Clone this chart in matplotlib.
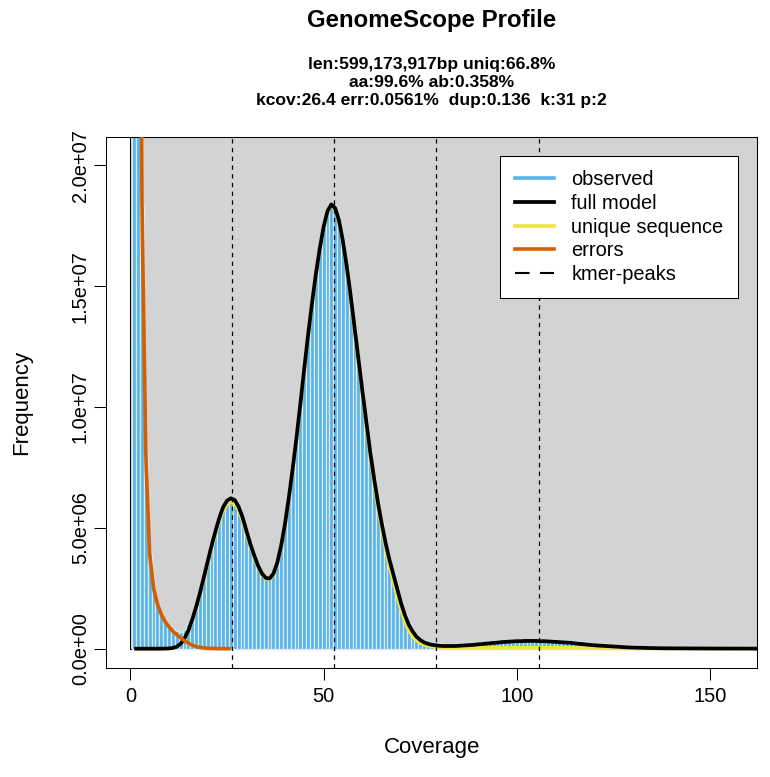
import numpy as np
import matplotlib
matplotlib.use("Agg")
import matplotlib.pyplot as plt
from matplotlib.patches import Rectangle
from matplotlib.lines import Line2D

plt.rcParams['font.family'] = ['Liberation Sans', 'DejaVu Sans']

# -----------------------
# Data (frequencies in millions of k-mers, coverage 1..165)
# -----------------------
coverage = np.arange(1, 166)

observed = [
    150, 60, 18.3, 8.1, 3.9, 2.45, 1.85, 1.45, 1.15, 0.95,
    0.8, 0.72, 0.7, 0.78, 1.0, 1.36, 1.8, 2.33, 2.97, 3.62,
    4.27, 4.86, 5.41, 5.86, 6.13, 6.23, 6.16, 5.89, 5.46, 4.91,
    4.36, 3.89, 3.46, 3.13, 2.94, 2.91, 3.11, 3.56, 4.26, 5.16,
    6.26, 7.46, 8.76, 10.16, 11.61, 13.01, 14.31, 15.51, 16.56, 17.46,
    18.11, 18.39, 18.23, 17.71, 16.86, 15.81, 14.61, 13.31, 12.01, 10.71,
    9.46, 8.21, 7.11, 6.11, 5.21, 4.41, 3.71, 3.11, 2.52, 1.93,
    1.44, 1.05, 0.78, 0.57, 0.43, 0.34, 0.28, 0.25, 0.23, 0.22,
    0.21, 0.21, 0.21, 0.21, 0.22, 0.22, 0.23, 0.23, 0.24, 0.25,
    0.26, 0.27, 0.28, 0.29, 0.3, 0.31, 0.32, 0.33, 0.34, 0.35,
    0.35, 0.36, 0.36, 0.36, 0.36, 0.35, 0.35, 0.34, 0.33, 0.32,
    0.31, 0.3, 0.29, 0.28, 0.26, 0.25, 0.24, 0.22, 0.21, 0.2,
    0.19, 0.18, 0.17, 0.17, 0.16, 0.16, 0.15, 0.15, 0.14, 0.14,
    0.14, 0.13, 0.13, 0.13, 0.13, 0.13, 0.12, 0.12, 0.12, 0.12,
    0.12, 0.12, 0.12, 0.12, 0.12, 0.12, 0.12, 0.12, 0.12, 0.12,
    0.12, 0.11, 0.11, 0.11, 0.11, 0.11, 0.11, 0.11, 0.11, 0.11,
    0.11, 0.11, 0.11, 0.11, 0.11,
]

full_model = [
    0, 0, 0, 0, 0, 0, 0, 0, 0.005, 0.01,
    0.03, 0.08, 0.2, 0.42, 0.75, 1.2, 1.72, 2.3, 2.95, 3.6,
    4.25, 4.85, 5.4, 5.85, 6.12, 6.22, 6.15, 5.88, 5.45, 4.9,
    4.35, 3.88, 3.45, 3.12, 2.93, 2.9, 3.1, 3.55, 4.25, 5.15,
    6.25, 7.45, 8.75, 10.15, 11.6, 13.0, 14.3, 15.5, 16.55, 17.45,
    18.1, 18.38, 18.22, 17.7, 16.85, 15.8, 14.6, 13.3, 12.0, 10.7,
    9.45, 8.2, 7.1, 6.1, 5.2, 4.4, 3.7, 3.1, 2.5, 1.9,
    1.4, 1.0, 0.72, 0.5, 0.36, 0.26, 0.2, 0.16, 0.14, 0.12,
    0.11, 0.11, 0.11, 0.11, 0.12, 0.13, 0.14, 0.15, 0.16, 0.18,
    0.19, 0.21, 0.22, 0.24, 0.25, 0.27, 0.28, 0.29, 0.3, 0.31,
    0.31, 0.32, 0.32, 0.32, 0.32, 0.31, 0.31, 0.3, 0.29, 0.28,
    0.27, 0.26, 0.25, 0.24, 0.22, 0.2, 0.19, 0.17, 0.155, 0.14,
    0.13, 0.12, 0.11, 0.1, 0.09, 0.08, 0.07, 0.06, 0.05, 0.045,
    0.04, 0.035, 0.03, 0.027, 0.024, 0.021, 0.019, 0.017, 0.015, 0.014,
    0.013, 0.012, 0.011, 0.01, 0.009, 0.009, 0.008, 0.008, 0.007, 0.007,
    0.007, 0.006, 0.006, 0.006, 0.005, 0.005, 0.005, 0.005, 0.004, 0.004,
    0.004, 0.004, 0.004, 0.003, 0.003,
]

unique_seq = [
    0, 0, 0, 0, 0, 0, 0, 0, 0.005, 0.01,
    0.03, 0.08, 0.19, 0.4, 0.72, 1.16, 1.67, 2.23, 2.87, 3.5,
    4.14, 4.73, 5.27, 5.71, 5.97, 6.07, 6.0, 5.74, 5.32, 4.79,
    4.26, 3.8, 3.39, 3.07, 2.89, 2.87, 3.07, 3.52, 4.22, 5.12,
    6.22, 7.42, 8.72, 10.12, 11.57, 12.97, 14.27, 15.47, 16.52, 17.42,
    18.07, 18.34, 18.17, 17.64, 16.78, 15.72, 14.5, 13.2, 11.88, 10.57,
    9.3, 8.04, 6.92, 5.9, 4.98, 4.16, 3.44, 2.82, 2.2, 1.6,
    1.12, 0.76, 0.52, 0.35, 0.24, 0.17, 0.12, 0.09, 0.07, 0.055,
    0.045, 0.04, 0.036, 0.034, 0.032, 0.031, 0.03, 0.03, 0.03, 0.03,
    0.03, 0.031, 0.032, 0.033, 0.034, 0.035, 0.036, 0.037, 0.038, 0.038,
    0.039, 0.039, 0.039, 0.039, 0.039, 0.038, 0.038, 0.037, 0.036, 0.035,
    0.034, 0.033, 0.031, 0.03, 0.028, 0.026, 0.025, 0.023, 0.021, 0.02,
    0.018, 0.017, 0.016, 0.015, 0.014, 0.013, 0.012, 0.011, 0.01, 0.009,
    0.009, 0.008, 0.008, 0.007, 0.007, 0.006, 0.006, 0.006, 0.005, 0.005,
    0.005, 0.005, 0.004, 0.004, 0.004, 0.004, 0.004, 0.003, 0.003, 0.003,
    0.003, 0.003, 0.003, 0.003, 0.002, 0.002, 0.002, 0.002, 0.002, 0.002,
    0.002, 0.002, 0.002, 0.001, 0.001,
]

# error k-mers, coverage 1..26
errors = [
    120, 45, 18.5, 8.0, 3.9, 2.5, 1.85, 1.42, 1.12, 0.9,
    0.72, 0.58, 0.45, 0.33, 0.23, 0.15, 0.09, 0.05, 0.03, 0.015,
    0.01, 0.005, 0, 0, 0, 0,
]

kmer_peaks = [26.4, 52.8, 79.2, 105.6]

x_ticks = [0, 50, 100, 150]
y_ticks = [0, 5e6, 1e7, 1.5e7, 2e7]
y_tick_labels = ["0.0e+00", "5.0e+06", "1.0e+07", "1.5e+07", "2.0e+07"]

title = "GenomeScope Profile"
subtitle = ["len:599,173,917bp uniq:66.8%",
            "aa:99.6% ab:0.358%",
            "kcov:26.4 err:0.0561%  dup:0.136  k:31 p:2"]

COLOR_HIST = "#56B4E9"
COLOR_BG = "#D3D3D3"
COLOR_UNIQUE = "#F0E442"
COLOR_ERR = "#D55E00"

# -----------------------
# Plot
# -----------------------
W, H = 770, 777
fig = plt.figure(figsize=(W / 100, H / 100), dpi=100)
ax = fig.add_axes([106 / W, (H - 668) / H, 651.3 / W, 531.3 / H])

obs = np.array(observed) * 1e6
model = np.array(full_model) * 1e6
uniq = np.array(unique_seq) * 1e6
err = np.array(errors) * 1e6

# grey background box (R rect with default black border)
ax.add_patch(Rectangle((0, 0), coverage.max() * 1.1, obs.max() * 1.1,
                       facecolor=COLOR_BG, edgecolor="black", linewidth=0.75, zorder=1))
ax.bar(coverage, obs, width=1.0, color=COLOR_HIST, edgecolor="#dde9f0",
       linewidth=0.9, zorder=2)
ax.plot(coverage, uniq, color=COLOR_UNIQUE, lw=2.6, zorder=3, solid_capstyle="butt")
ax.plot(coverage, model, color="black", lw=2.7, zorder=4, solid_capstyle="butt")
ax.plot(coverage[:len(err)], err, color=COLOR_ERR, lw=2.6, zorder=5, solid_capstyle="butt")
for p in kmer_peaks:
    ax.axvline(p, color="black", lw=0.9, dashes=(3.5, 3.5), zorder=6)

ax.set_xlim(-6.3, 162.2)
ax.set_ylim(-0.80e6, 21.18e6)
ax.set_xticks(x_ticks)
ax.set_xticklabels([str(t) for t in x_ticks])
ax.set_yticks(y_ticks)
ax.set_yticklabels(y_tick_labels, rotation=90, va="center")
ax.tick_params(axis="both", labelsize=14.4, length=8.6, width=0.75, direction="out")
ax.tick_params(axis="x", pad=5)
ax.tick_params(axis="y", pad=3)
for s in ax.spines.values():
    s.set_linewidth(0.75)

fig.text(431.7 / W, 1 - 748 / H, "Coverage", ha="center", va="center", fontsize=16)
fig.text(22 / W, 1 - 402 / H, "Frequency", ha="center", va="center",
         rotation=90, fontsize=16)

fig.text(431.7 / W, 1 - 21 / H, title, ha="center", va="center",
         fontsize=17.3, fontweight="bold")
for i, line in enumerate(subtitle):
    fig.text(431.7 / W, 1 - (65 + 17.8 * i) / H, line, ha="center", va="center",
             fontsize=12.6, fontweight="bold")

handles = [
    Line2D([], [], color=COLOR_HIST, lw=2.6),
    Line2D([], [], color="black", lw=2.7),
    Line2D([], [], color=COLOR_UNIQUE, lw=2.6),
    Line2D([], [], color=COLOR_ERR, lw=2.6),
    Line2D([], [], color="black", lw=1.5, dashes=(7, 5)),
]
labels = ["observed", "full model", "unique sequence", "errors", "kmer-peaks"]
leg = ax.legend(handles, labels, loc="upper right", bbox_to_anchor=(0.9704, 0.9637),
                borderaxespad=0, fontsize=14.4, handlelength=1.95, handletextpad=0.88,
                labelspacing=0.23, borderpad=0.72, fancybox=False, framealpha=1,
                edgecolor="black")
leg.get_frame().set_linewidth(0.75)
leg.set_zorder(10)

fig.savefig("out.png", dpi=100)
